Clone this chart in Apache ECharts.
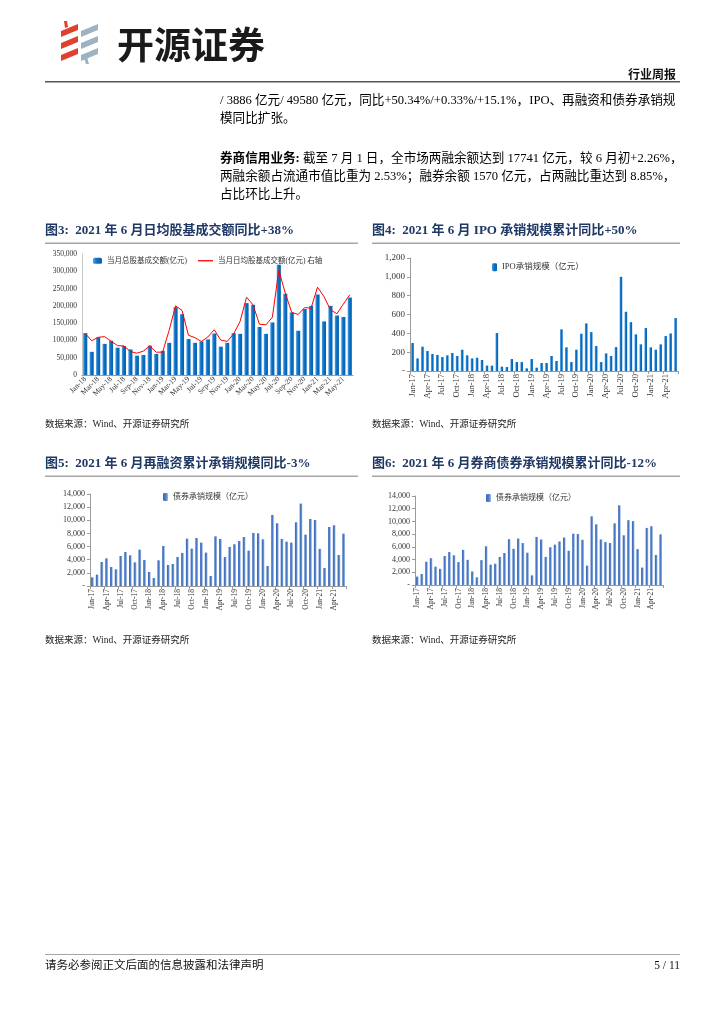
<!DOCTYPE html>
<html>
<head>
<meta charset="utf-8">
<script src="https://cdn.jsdelivr.net/npm/echarts@6/dist/echarts.min.js"></script>
<style>
html,body{margin:0;padding:0;background:#fff;}
#c{width:724px;height:1024px;}
</style>
</head>
<body>
<div id="c"></div>
<script>
// ---- Figure 3: monthly stock+fund turnover, Jan-18 .. Jun-21
const months3 = ['Jan-18','Feb-18','Mar-18','Apr-18','May-18','Jun-18','Jul-18','Aug-18','Sep-18','Oct-18','Nov-18','Dec-18',
  'Jan-19','Feb-19','Mar-19','Apr-19','May-19','Jun-19','Jul-19','Aug-19','Sep-19','Oct-19','Nov-19','Dec-19',
  'Jan-20','Feb-20','Mar-20','Apr-20','May-20','Jun-20','Jul-20','Aug-20','Sep-20','Oct-20','Nov-20','Dec-20',
  'Jan-21','Feb-21','Mar-21','Apr-21','May-21','Jun-21'];
const totalTurnover = [121000,67000,109000,90000,99000,79000,84000,74000,56000,58000,85000,61000,
  70000,93000,196000,176000,104000,93000,97000,103000,120000,82000,93000,121000,
  119000,208000,203000,139000,119000,152000,319000,235000,181000,128000,191000,200000,
  233000,155000,200000,172000,168000,224000];
const dailyTurnover = [6000,4950,5450,5550,4900,4250,4200,3400,3150,3450,4200,3300,
  3300,6450,10000,9350,5750,5400,4850,5500,6550,5050,4850,5950,
  7750,11250,10150,7350,7250,8350,15150,11850,9050,8750,9750,9650,
  12700,11350,9450,8850,10250,11600];
const yTicks3 = {min:0, max:350000, interval:50000};
const yTicks3Right = {min:0, max:17500};

// ---- Figure 4..6: Jan-17 .. Jun-21
const months4 = ['Jan-17','Feb-17','Mar-17','Apr-17','May-17','Jun-17','Jul-17','Aug-17','Sep-17','Oct-17','Nov-17','Dec-17',
  'Jan-18','Feb-18','Mar-18','Apr-18','May-18','Jun-18','Jul-18','Aug-18','Sep-18','Oct-18','Nov-18','Dec-18',
  'Jan-19','Feb-19','Mar-19','Apr-19','May-19','Jun-19','Jul-19','Aug-19','Sep-19','Oct-19','Nov-19','Dec-19',
  'Jan-20','Feb-20','Mar-20','Apr-20','May-20','Jun-20','Jul-20','Aug-20','Sep-20','Oct-20','Nov-20','Dec-20',
  'Jan-21','Feb-21','Mar-21','Apr-21','May-21','Jun-21'];
const ipoUnderwriting = [297,134,258,212,180,170,148,166,191,159,226,166,
  134,141,117,57,57,403,46,42,127,95,95,28,
  127,35,85,85,159,106,442,251,95,226,396,505,
  413,265,95,187,159,254,1000,629,519,389,283,456,
  251,226,283,371,399,562];
const yTicks4 = {min:0, max:1200, interval:200};
const bondUnderwriting = [1320,1730,3650,4210,2890,2540,4570,5180,4670,3600,5530,3960,
  2130,1220,3910,6090,3200,3350,4420,5030,7210,5690,7310,6600,
  5080,1520,7560,7160,4420,5940,6350,6850,7460,5380,8070,8020,
  7110,3050,10810,9540,7160,6750,6600,9700,12540,7820,10200,10050,
  5640,2740,8980,9240,4720,7970];
const yTicks5 = {min:0, max:14000, interval:2000};

const SERIF = '"Liberation Serif","Noto Sans CJK SC",serif';
const axisCol = '#9A9A9A';
const labCol = '#333';

function fmtDash(v){ return v === 0 ? '-' : Number(v).toLocaleString('en-US'); }
function fmtZero(v){ return Number(v).toLocaleString('en-US'); }

const blueGrad = new echarts.graphic.LinearGradient(0,0,1,0,[{offset:0,color:'#4FA0E8'},{offset:0.45,color:'#0A6FC2'},{offset:1,color:'#0062B4'}]);
const steelGrad = new echarts.graphic.LinearGradient(0,0,1,0,[{offset:0,color:'#3A69B8'},{offset:0.55,color:'#4D7CC8'},{offset:1,color:'#9DBBE6'}]);

function catAxis(gi, data, opt){
  return Object.assign({
    type:'category', gridIndex:gi, data:data, boundaryGap:true,
    axisLine:{show:true, lineStyle:{color:axisCol, width:1}},
    axisTick:{show:true, interval:2, length:3, lineStyle:{color:axisCol}},
    axisLabel:{interval:2, rotate:90, fontSize:8, color:labCol, fontFamily:SERIF, margin:3}
  }, opt||{});
}
function valAxis(gi, t, fmt, fs, extra){
  return Object.assign({
    type:'value', gridIndex:gi, min:t.min, max:t.max, interval:t.interval,
    splitLine:{show:false},
    axisLine:{show:true, lineStyle:{color:axisCol, width:1}},
    axisTick:{show:true, length:3, lineStyle:{color:axisCol}},
    axisLabel:{formatter:fmt, fontSize:fs, color:labCol, fontFamily:SERIF, margin:5}
  }, extra||{});
}

function txt(x, y, text, font, color, align){
  return {type:'text', x:x, y:y, silent:true,
    style:{text:text, font:font, fill:color||'#000', textAlign:align||'left', textVerticalAlign:'middle'}};
}

const bodyFont = '12.6px ' + SERIF;
const titleFont = 'bold 13px ' + SERIF;
const srcFont = '9.5px ' + SERIF;

const graphics = [
  // logo stripes (red)
  {type:'polygon', shape:{points:[[61,31],[78,24],[78,30],[61,37]]}, style:{fill:'#E0412E'}},
  {type:'polygon', shape:{points:[[61,43],[78,36],[78,42],[61,49]]}, style:{fill:'#E0412E'}},
  {type:'polygon', shape:{points:[[61,55],[78,48],[78,54],[61,61]]}, style:{fill:'#E0412E'}},
  {type:'polygon', shape:{points:[[64,21],[67,21],[68,27],[65,28]]}, style:{fill:'#E0412E'}},
  // logo stripes (grey-blue)
  {type:'polygon', shape:{points:[[81,31],[98,24],[98,30],[81,37]]}, style:{fill:'#9DB3C2'}},
  {type:'polygon', shape:{points:[[81,43],[98,36],[98,42],[81,49]]}, style:{fill:'#9DB3C2'}},
  {type:'polygon', shape:{points:[[81,55],[98,48],[98,54],[81,61]]}, style:{fill:'#9DB3C2'}},
  {type:'polygon', shape:{points:[[84,58],[87,57],[89,64],[86,64]]}, style:{fill:'#9DB3C2'}},
  txt(117, 45, '开源证券', 'bold 37px "Noto Sans CJK SC",sans-serif', '#1A1A1A'),
  txt(676, 74, '行业周报', 'bold 12px "Noto Sans CJK SC",sans-serif', '#111', 'right'),
  {type:'rect', shape:{x:45, y:81, width:635, height:1.6}, style:{fill:'#555'}},
  // body text
  txt(220, 101, '/ 3886 亿元/ 49580 亿元，同比+50.34%/+0.33%/+15.1%，IPO、再融资和债券承销规', bodyFont),
  txt(220, 119, '模同比扩张。', bodyFont),
  {type:'text', x:220, y:159, silent:true, style:{
     text:'{b|券商信用业务:} 截至 7 月 1 日，全市场两融余额达到 17741 亿元，较 6 月初+2.26%，',
     font:bodyFont, fill:'#000', textVerticalAlign:'middle',
     rich:{b:{fontWeight:'bold', fontSize:12.6, fontFamily:SERIF, fill:'#000'}}}},
  txt(220, 177, '两融余额占流通市值比重为 2.53%；融券余额 1570 亿元，占两融比重达到 8.85%，', bodyFont),
  txt(220, 195, '占比环比上升。', bodyFont),
  // figure titles
  txt(45, 231, '图3:  2021 年 6 月日均股基成交额同比+38%', titleFont, '#1F3864'),
  {type:'rect', shape:{x:45, y:242.5, width:313, height:1.6}, style:{fill:'#A6A6A6'}},
  txt(372, 231, '图4:  2021 年 6 月 IPO 承销规模累计同比+50%', titleFont, '#1F3864'),
  {type:'rect', shape:{x:372, y:242.5, width:308, height:1.6}, style:{fill:'#A6A6A6'}},
  txt(45, 424, '数据来源：Wind、开源证券研究所', srcFont, '#222'),
  txt(372, 424, '数据来源：Wind、开源证券研究所', srcFont, '#222'),
  txt(45, 464, '图5:  2021 年 6 月再融资累计承销规模同比-3%', titleFont, '#1F3864'),
  {type:'rect', shape:{x:45, y:475.5, width:313, height:1.6}, style:{fill:'#A6A6A6'}},
  txt(372, 464, '图6:  2021 年 6 月券商债券承销规模累计同比-12%', titleFont, '#1F3864'),
  {type:'rect', shape:{x:372, y:475.5, width:308, height:1.6}, style:{fill:'#A6A6A6'}},
  txt(45, 640, '数据来源：Wind、开源证券研究所', srcFont, '#222'),
  txt(372, 640, '数据来源：Wind、开源证券研究所', srcFont, '#222'),
  // footer
  {type:'rect', shape:{x:45, y:954, width:635, height:0.8}, style:{fill:'#888'}},
  txt(45, 966, '请务必参阅正文后面的信息披露和法律声明', '11.5px ' + SERIF, '#111'),
  txt(680, 966, '5 / 11', '11.5px ' + SERIF, '#111', 'right')
];

const chart = echarts.init(document.getElementById('c'), null, {renderer:'canvas'});
chart.setOption({
  backgroundColor:'#fff',
  animation:false,
  grid:[
    {left:82, top:254, width:271, height:121},
    {left:410, top:258, width:268, height:113},
    {left:90, top:494, width:256, height:92},
    {left:415, top:496, width:248, height:89}
  ],
  legend:[
    {data:['当月总股基成交额(亿元)'], left:88, top:252, itemWidth:9, itemHeight:6, itemGap:4,
     textStyle:{fontSize:7.5, color:'#333', fontFamily:SERIF}},
    {data:[{name:'当月日均股基成交额(亿元) 右轴', icon:'rect'}], left:193, top:252, itemWidth:15, itemHeight:1.3,
     textStyle:{fontSize:7.5, color:'#333', fontFamily:SERIF}},
    {data:['IPO承销规模（亿元）'], left:487, top:258, itemWidth:5, itemHeight:8,
     textStyle:{fontSize:8.5, color:'#333', fontFamily:SERIF}},
    {data:['债券承销规模（亿元）'], left:158, top:488, itemWidth:5, itemHeight:8,
     textStyle:{fontSize:8, color:'#333', fontFamily:SERIF}},
    {data:['债券承销规模（亿元） '], left:481, top:489, itemWidth:5, itemHeight:8,
     textStyle:{fontSize:8, color:'#333', fontFamily:SERIF}}
  ],
  xAxis:[
    catAxis(0, months3, {axisTick:{show:false}, axisLabel:{interval:1, rotate:45, fontSize:7.5, color:labCol, fontFamily:SERIF, margin:3}}),
    catAxis(1, months4, {axisLabel:{interval:2, rotate:90, fontSize:8.5, color:labCol, fontFamily:SERIF, margin:3}}),
    catAxis(2, months4, {axisLabel:{interval:2, rotate:90, fontSize:7.5, color:labCol, fontFamily:SERIF, margin:3}}),
    catAxis(3, months4, {axisLabel:{interval:2, rotate:90, fontSize:7.5, color:labCol, fontFamily:SERIF, margin:3}})
  ],
  yAxis:[
    valAxis(0, yTicks3, fmtZero, 7.5, {axisTick:{show:false}, axisLine:{show:true, lineStyle:{color:'#C8C8C8'}}}),
    {type:'value', gridIndex:0, min:yTicks3Right.min, max:yTicks3Right.max, show:false, splitLine:{show:false}},
    valAxis(1, yTicks4, fmtDash, 9),
    valAxis(2, yTicks5, fmtDash, 8),
    valAxis(3, yTicks5, fmtDash, 8)
  ],
  series:[
    {name:'当月总股基成交额(亿元)', type:'bar', xAxisIndex:0, yAxisIndex:0, data:totalTurnover,
     barWidth:'64%', itemStyle:{color:blueGrad}},
    {name:'当月日均股基成交额(亿元) 右轴', type:'line', xAxisIndex:0, yAxisIndex:1, data:dailyTurnover,
     symbol:'none', lineStyle:{color:'#FF0000', width:1}, itemStyle:{color:'#FF0000'}},
    {name:'IPO承销规模（亿元）', type:'bar', xAxisIndex:1, yAxisIndex:2, data:ipoUnderwriting,
     barWidth:'52%', itemStyle:{color:blueGrad}},
    {name:'债券承销规模（亿元）', type:'bar', xAxisIndex:2, yAxisIndex:3, data:bondUnderwriting,
     barWidth:'55%', itemStyle:{color:steelGrad}},
    {name:'债券承销规模（亿元） ', type:'bar', xAxisIndex:3, yAxisIndex:4, data:bondUnderwriting,
     barWidth:'55%', itemStyle:{color:steelGrad}}
  ],
  graphic:graphics
});
</script>
</body>
</html>
